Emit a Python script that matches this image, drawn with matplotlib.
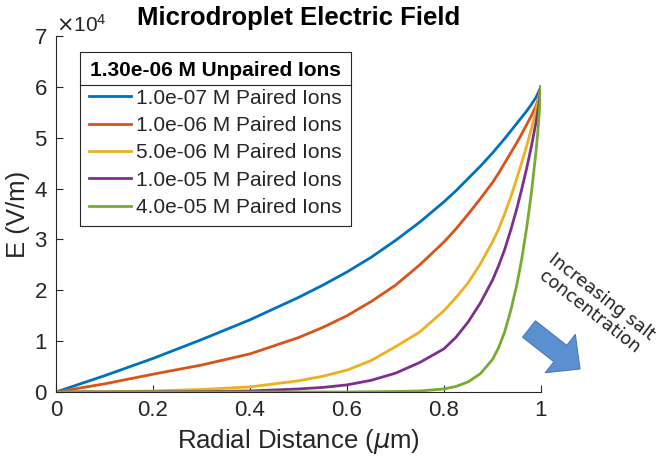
import matplotlib
matplotlib.use("Agg")
from matplotlib import pyplot as plt
from matplotlib.lines import Line2D
import numpy as np

# radial distance (um)
r = [0, 0.1, 0.2, 0.3, 0.4, 0.5, 0.55, 0.6, 0.65, 0.7, 0.75, 0.8, 0.825, 0.85, 0.875,
     0.9, 0.9125, 0.925, 0.9375, 0.95, 0.96, 0.97, 0.98, 0.99, 0.995, 1.0]

# E field, in units of 1e4 V/m
e_1e7 = [0, 0.32, 0.66, 1.03, 1.42, 1.86, 2.1, 2.36, 2.65, 2.98, 3.34, 3.74, 3.96, 4.2, 4.44,
         4.7, 4.84, 4.98, 5.13, 5.28, 5.40, 5.52, 5.65, 5.8, 5.9, 6.0]
e_1e6 = [0, 0.16, 0.35, 0.53, 0.75, 1.07, 1.27, 1.5, 1.78, 2.1, 2.5, 2.95, 3.21, 3.5, 3.8,
         4.12, 4.3, 4.5, 4.7, 4.9, 5.07, 5.25, 5.43, 5.63, 5.78, 6.0]
e_5e6 = [0, 0.005, 0.02, 0.05, 0.1, 0.22, 0.31, 0.43, 0.62, 0.89, 1.18, 1.6, 1.86, 2.15, 2.52,
         2.95, 3.2, 3.5, 3.83, 4.2, 4.5, 4.82, 5.17, 5.55, 5.76, 6.0]
e_1e5 = [0, 0, 0.002, 0.008, 0.02, 0.06, 0.09, 0.14, 0.23, 0.37, 0.58, 0.85, 1.08, 1.38, 1.75,
         2.2, 2.48, 2.8, 3.18, 3.6, 3.98, 4.38, 4.82, 5.32, 5.62, 6.0]
e_4e5 = [0, 0, 0, 0, 0, 0, 0, 0, 0.005, 0.01, 0.02, 0.06, 0.11, 0.2, 0.36,
         0.64, 0.87, 1.18, 1.6, 2.1, 2.6, 3.2, 3.9, 4.75, 5.3, 6.0]

series = [e_1e7, e_1e6, e_5e6, e_1e5, e_4e5]
labels = ["1.0e-07 M Paired Ions", "1.0e-06 M Paired Ions", "5.0e-06 M Paired Ions",
          "1.0e-05 M Paired Ions", "4.0e-05 M Paired Ions"]
colors = ["#0072BD", "#D95319", "#EDB120", "#7E2F8E", "#77AC30"]
legend_title = "1.30e-06 M Unpaired Ions"

plt.rcParams['font.family'] = ['Liberation Sans', 'DejaVu Sans']
plt.rcParams['mathtext.fontset'] = 'dejavusans'
grey = "#262626"

fig = plt.figure(figsize=(6.64, 4.67), dpi=100)
ax = fig.add_axes([56/664, 1-392/467, 485/664, 356/467])

for ys, lab, c in zip(series, labels, colors):
    ax.plot(r, np.array(ys)*1e4, color=c, lw=2.0, label=lab)

ax.set_xlim(0, 1)
ax.set_ylim(0, 7e4)
ax.set_xticks([0, 0.2, 0.4, 0.6, 0.8, 1])
ax.set_xticklabels(["0", "0.2", "0.4", "0.6", "0.8", "1"])
ax.set_yticks(np.arange(0, 8)*1e4)
ax.ticklabel_format(axis='y', style='sci', scilimits=(4, 4), useMathText=True)
ax.yaxis.get_offset_text().set_fontsize(15)
ax.yaxis.get_offset_text().set_color(grey)

for s in ['top', 'right']:
    ax.spines[s].set_visible(False)
for s in ['left', 'bottom']:
    ax.spines[s].set_color(grey)
    ax.spines[s].set_linewidth(0.8)
ax.tick_params(direction='in', length=5, width=0.8, colors=grey, labelsize=16, pad=6)

ax.set_xlabel(r"Radial Distance ($\mu$m)", fontsize=18.5, color=grey, labelpad=4)
ax.set_ylabel("E (V/m)", fontsize=18.5, color=grey, labelpad=3)
ax.set_title("Microdroplet Electric Field", fontsize=18.5, fontweight='bold', pad=8)

leg = ax.legend(loc='upper left', bbox_to_anchor=(24/485, 340/356), borderaxespad=0,
                title=legend_title, fontsize=15, title_fontproperties={'weight': 'bold', 'size': 15},
                handlelength=2.0, handletextpad=0.25, labelspacing=0.4, fancybox=False,
                framealpha=1, edgecolor=grey, borderpad=0.45)
leg.get_frame().set_linewidth(0.8)
for t in leg.get_texts():
    t.set_color(grey)

# separator line under the legend title
fig.canvas.draw()
rend = fig.canvas.get_renderer()
lb = leg.get_window_extent(rend)
tb = leg.get_title().get_window_extent(rend)
ysep = tb.y0 - 5
fig.add_artist(Line2D([lb.x0/664, lb.x1/664], [ysep/467, ysep/467],
                      color=grey, lw=0.8, transform=fig.transFigure))

# annotation: arrow and text
ax.annotate("", xy=(580, 467-369), xytext=(529, 467-329), xycoords='figure pixels',
            textcoords='figure pixels',
            arrowprops=dict(arrowstyle='simple,head_width=1.75,head_length=0.9,tail_width=0.75',
                            fc='#5B8FD0', ec='#4A7BBB', lw=0.8, shrinkA=0, shrinkB=0,
                            mutation_scale=20))
fig.text(596/664, 1-304/467, "Increasing salt\nconcentration", rotation=-38,
         ha='center', va='center', fontsize=12.8, family='DejaVu Sans', color='#222222',
         linespacing=1.1, rotation_mode='anchor')

fig.savefig("out.png", dpi=100)
